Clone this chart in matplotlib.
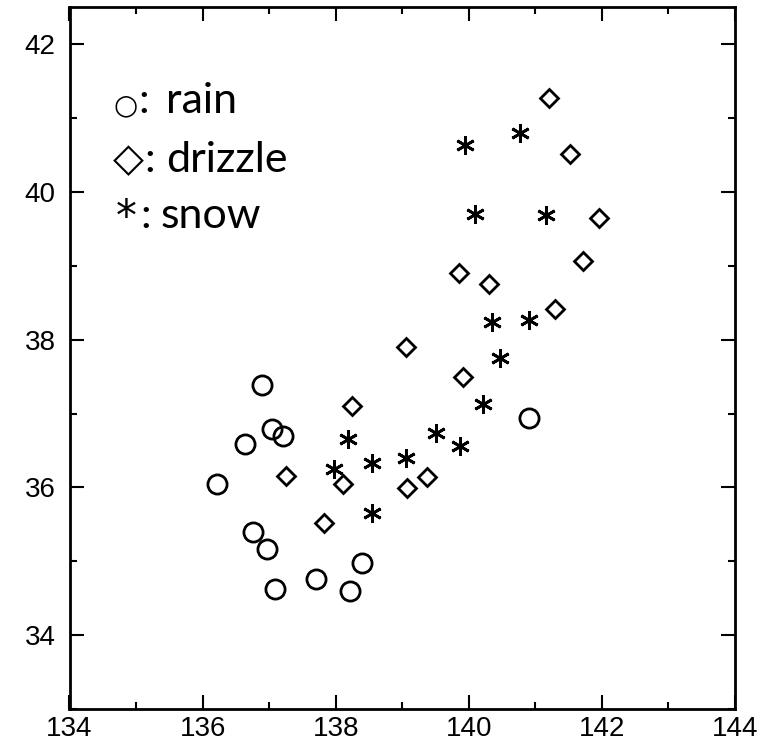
import matplotlib
matplotlib.use("Agg")
import matplotlib.pyplot as plt
from matplotlib.ticker import MultipleLocator

# Longitude / latitude of each observation, grouped by precipitation type
rain_lon = [136.89, 137.04, 137.21, 136.63, 136.21, 136.76, 136.97, 137.09, 137.71, 138.21, 138.40, 140.90]
rain_lat = [37.39, 36.79, 36.70, 36.59, 36.05, 35.40, 35.17, 34.63, 34.76, 34.60, 34.98, 36.94]

drizzle_lon = [141.21, 141.52, 141.96, 141.71, 139.85, 140.31, 141.30, 139.05, 138.25, 139.91,
               137.26, 138.11, 139.07, 139.37, 137.83]
drizzle_lat = [41.27, 40.52, 39.65, 39.06, 38.90, 38.75, 38.42, 37.90, 37.10, 37.49,
               36.15, 36.04, 35.99, 36.14, 35.52]

snow_lon = [139.94, 140.77, 140.10, 141.16, 140.35, 140.90, 140.47, 140.22, 139.50, 139.87,
            139.06, 138.55, 138.19, 137.97, 138.55]
snow_lat = [40.64, 40.80, 39.70, 39.69, 38.24, 38.26, 37.75, 37.13, 36.74, 36.56,
            36.40, 36.33, 36.66, 36.25, 35.66]

x_ticks = [134, 136, 138, 140, 142, 144]
y_ticks = [34, 36, 38, 40, 42]

key_symbols = ["○", "◇", "*"]
key_words = ["rain", "drizzle", "snow"]

W, H = 775, 745
fig = plt.figure(figsize=(W / 100, H / 100), dpi=100)
ax = fig.add_axes([69.5 / W, 1 - 709 / H, (735 - 69.5) / W, (709 - 7.3) / H])

mk = dict(linestyle="none", color="black", markerfacecolor="none", markeredgewidth=2.0, clip_on=False)
ax.plot(rain_lon, rain_lat, marker="o", markersize=13.8, **mk)
ax.plot(drizzle_lon, drizzle_lat, marker="D", markersize=9.0, **mk)
ax.plot(snow_lon, snow_lat, marker=(6, 2, 0), markersize=13.5, **mk)

ax.set_xlim(134, 144)
ax.set_ylim(33, 42.5)
ax.set_xticks(x_ticks)
ax.set_yticks(y_ticks)
ax.xaxis.set_minor_locator(MultipleLocator(1))
ax.yaxis.set_minor_locator(MultipleLocator(1))

for s in ax.spines.values():
    s.set_linewidth(2.0)
ax.tick_params(which="both", direction="in", top=True, right=True, width=1.5, color="black")
ax.tick_params(which="major", length=10)
ax.tick_params(which="minor", length=5)
ax.tick_params(axis="x", which="major", pad=5)
ax.tick_params(axis="y", which="major", pad=10)
for lab in ax.get_xticklabels() + ax.get_yticklabels():
    lab.set_family("Liberation Sans")
    lab.set_fontsize(20)


def fx(px):
    return px / W


def fy(py):
    return 1 - py / H


# Key drawn as plain text inside the plot: symbol, colon, word on each line
txt = dict(family=["Lato", "DejaVu Sans"], fontsize=31, ha="left", va="baseline", color="black")

fig.text(fx(126), fy(105), key_symbols[0], family="DejaVu Sans", fontsize=20, ha="center", va="center")
fig.text(fx(128), fy(160), key_symbols[1], family="DejaVu Sans", fontsize=29, ha="center", va="center")
fig.text(fx(126), fy(230), key_symbols[2], family="DejaVu Sans", fontsize=30, ha="center", va="baseline")

colon_x = [138.5, 144.5, 140.5]
word_x = [166, 166, 161]
baselines = [113, 172, 228]
for cx, wx, by, word in zip(colon_x, word_x, baselines, key_words):
    fig.text(fx(cx), fy(by), ":", **txt)
    fig.text(fx(wx), fy(by), word, **txt)

fig.savefig("out.png", dpi=100)
